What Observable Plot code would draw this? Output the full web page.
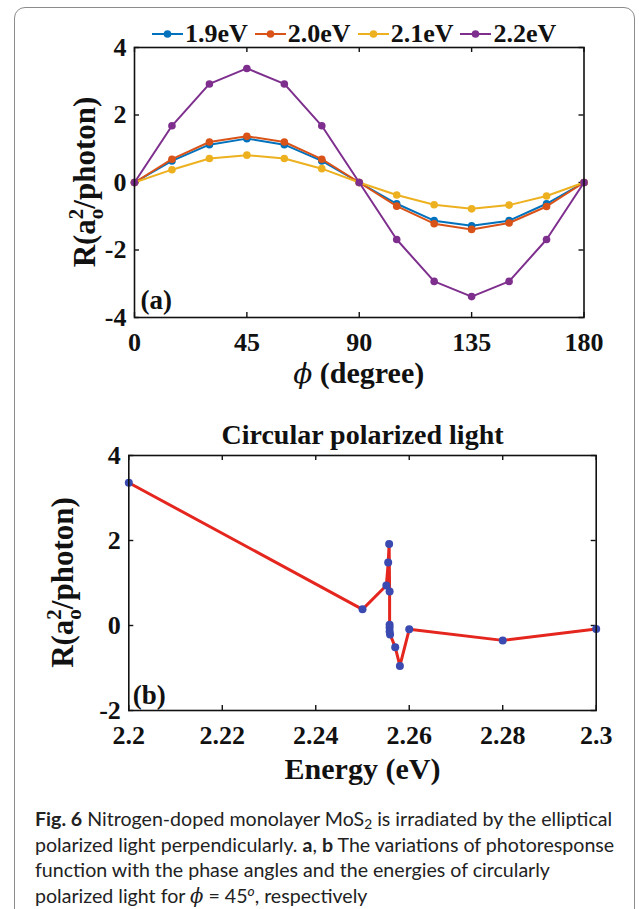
<!DOCTYPE html>
<html>
<head>
<meta charset="utf-8">
<script src="https://cdn.jsdelivr.net/npm/d3@7"></script>
<script src="https://cdn.jsdelivr.net/npm/@observablehq/plot@0.6"></script>
<style>
  body { margin: 0; background: #fff; }
  #wrap { position: relative; width: 639px; height: 909px; overflow: hidden; background: #fff; }
  #border { position: absolute; left: 14px; top: 7px; width: 621px; height: 960px; border: 1.5px solid #8c8c8c; border-radius: 11px; box-sizing: border-box; }
  #plotA { position: absolute; left: 0; top: 0; }
  #plotB { position: absolute; left: 0; top: 400px; }
  #legend { position: absolute; left: 152px; top: 21px; display: flex; align-items: center; font: bold 26px "Liberation Serif", serif; line-height: 26px; color: #111; white-space: nowrap; }
  #legend .item { display: flex; align-items: center; }
  #legend span { margin: 0 7px 0 2px; }
  #caption { position: absolute; left: 35px; top: 806px; width: 600px; font-family: Lato, "Noto Sans", sans-serif; font-size: 19.6px; line-height: 25.7px; color: #222; white-space: nowrap; }
  #caption b { font-weight: bold; }
</style>
</head>
<body>
<div id="wrap">
  <div id="border"></div>
  <div id="plotA"></div>
  <div id="plotB"></div>
  <div id="legend"></div>
  <div id="caption">
    <b>Fig. 6</b> Nitrogen-doped monolayer MoS<sub style="font-size:0.7em;vertical-align:-0.25em;line-height:0">2</sub> is irradiated by the elliptical<br>
    polarized light perpendicularly. <b>a</b>, <b>b</b> The variations of photoresponse<br>
    function with the phase angles and the energies of circularly<br>
    polarized light for <i style="font-family:'DejaVu Serif',serif;">ϕ</i> = 45<sup style="font-size:0.7em;vertical-align:0.5em;line-height:0"><i>o</i></sup>, respectively
  </div>
</div>
<script>
// ---------- Panel (a) data ----------
const phi = [0, 15, 30, 45, 60, 75, 90, 105, 120, 135, 150, 165, 180];
const seriesNames = ["1.9eV", "2.0eV", "2.1eV", "2.2eV"];
const seriesColors = ["#0072BD", "#D95319", "#EDB120", "#7E2F8E"];
const r19 = [0, 0.64, 1.12, 1.30, 1.12, 0.64, 0, -0.63, -1.13, -1.28, -1.13, -0.63, 0];
const r20 = [0, 0.69, 1.20, 1.37, 1.20, 0.69, 0, -0.70, -1.22, -1.39, -1.20, -0.71, 0];
const r21 = [0, 0.38, 0.71, 0.81, 0.71, 0.41, 0, -0.37, -0.66, -0.78, -0.67, -0.40, 0];
const r22 = [0, 1.68, 2.92, 3.38, 2.92, 1.68, 0, -1.69, -2.93, -3.38, -2.93, -1.69, 0];
const xTicksA = [0, 45, 90, 135, 180];
const xTickLabelsA = ["0", "45", "90", "135", "180"];
const yTicksA = [-4, -2, 0, 2, 4];
const yTickLabelsA = ["-4", "-2", "0", "2", "4"];

// ---------- Panel (b) data ----------
const energyB = [2.2, 2.25, 2.2551, 2.2555, 2.2557, 2.2558, 2.2558, 2.2558, 2.2558, 2.2559, 2.257, 2.258, 2.26, 2.28, 2.3];
const rB = [3.36, 0.38, 0.94, 1.48, 1.92, 0.80, 0.02, -0.05, -0.14, -0.21, -0.51, -0.95, -0.09, -0.35, -0.08];
const xTicksB = [2.2, 2.22, 2.24, 2.26, 2.28, 2.3];
const xTickLabelsB = ["2.2", "2.22", "2.24", "2.26", "2.28", "2.3"];
const yTicksB = [-2, 0, 2, 4];
const yTickLabelsB = ["-2", "0", "2", "4"];

const SERIF = "Liberation Serif, Times New Roman, serif";
const INK = "#111";

// ---------- build tables ----------
const seriesVals = [r19, r20, r21, r22];
const tableA = [];
seriesNames.forEach((s, k) => phi.forEach((p, i) => tableA.push({phi: p, r: seriesVals[k][i], series: s})));
const tableB = energyB.map((e, i) => ({e, r: rB[i]}));

function fmt(ticks, labels) { return d => labels[ticks.findIndex(t => Math.abs(t - d) < 1e-9)]; }

// ---------- Plot (a) ----------
const HA = 400, mTA = 47, mBA = 83, mLA = 134, mRA = 55.5;
const innerHA = HA - mTA - mBA, innerWA = 639 - mLA - mRA;
const TK = 5;
const marksA = [
  Plot.axisX({ticks: xTicksA, tickFormat: fmt(xTicksA, xTickLabelsA), tickSize: 0, tickPadding: 15, label: null,
    fontSize: 26, fontWeight: "bold", fontFamily: SERIF, fill: INK}),
  Plot.axisY({ticks: yTicksA, tickFormat: fmt(yTicksA, yTickLabelsA), tickSize: 0, tickPadding: 8, label: null,
    fontSize: 26, fontWeight: "bold", fontFamily: SERIF, fill: INK}),
  Plot.ruleX(xTicksA, {insetTop: innerHA - TK, stroke: INK, strokeWidth: 1.4}),
  Plot.ruleX(xTicksA, {insetBottom: innerHA - TK, stroke: INK, strokeWidth: 1.4}),
  Plot.ruleY(yTicksA, {insetRight: innerWA - TK, stroke: INK, strokeWidth: 1.4}),
  Plot.ruleY(yTicksA, {insetLeft: innerWA - TK, stroke: INK, strokeWidth: 1.4})
];
seriesNames.forEach((s) => {
  const sub = tableA.filter(d => d.series === s);
  marksA.push(Plot.line(sub, {x: "phi", y: "r", stroke: "series", strokeWidth: 2}));
  marksA.push(Plot.dot(sub, {x: "phi", y: "r", fill: "series", r: 3.8}));
});
marksA.push(Plot.frame({stroke: INK, strokeWidth: 1.6}));
marksA.push(Plot.text(["(a)"], {frameAnchor: "bottom-left", dx: 6, dy: -9, textAnchor: "start", lineAnchor: "bottom",
  fontSize: 27, fontWeight: "bold", fontFamily: SERIF, fill: INK}));

const plotA = Plot.plot({
  width: 639, height: HA,
  marginTop: mTA, marginBottom: mBA, marginLeft: mLA, marginRight: mRA,
  style: {background: "transparent", color: INK, overflow: "visible"},
  x: {domain: [0, 180]},
  y: {domain: [-4, 4]},
  color: {domain: seriesNames, range: seriesColors},
  marks: marksA
});
document.getElementById("plotA").appendChild(plotA);

// rich labels for (a)
{
  const svg = d3.select(plotA);
  const sx = plotA.scale("x"), sy = plotA.scale("y");
  const cx = (sx.apply(0) + sx.apply(180)) / 2;
  const cy = (sy.apply(-4) + sy.apply(4)) / 2;
  const xl = svg.append("text").attr("x", cx).attr("y", 383).attr("text-anchor", "middle")
    .attr("font-family", SERIF).attr("font-weight", "bold").attr("font-size", 30).attr("fill", INK);
  xl.append("tspan").attr("font-style", "italic").attr("font-family", "DejaVu Serif, serif").attr("font-weight", "normal").attr("font-size", 28).text("ϕ");
  xl.append("tspan").text(" (degree)");
  ylabel(svg, 95, cy);
}

function ylabel(svg, bx, cy) {
  const t = svg.append("text").attr("transform", `translate(${bx},${cy}) rotate(-90)`).attr("text-anchor", "middle")
    .attr("font-family", SERIF).attr("font-weight", "bold").attr("font-size", 31).attr("fill", INK);
  t.append("tspan").text("R(a");
  t.append("tspan").attr("font-size", 21).attr("dy", -12).text("2");
  t.append("tspan").attr("font-size", 21).attr("dx", -10.5).attr("dy", 20).text("o");
  t.append("tspan").attr("dy", -8).text("/photon)");
}

// ---------- Plot (b) ----------
const HB = 390, mTB = 55, mBB = 80, mLB = 128.3, mRB = 43.3;
const innerHB = HB - mTB - mBB, innerWB = 639 - mLB - mRB;
const plotB = Plot.plot({
  width: 639, height: HB,
  marginTop: mTB, marginBottom: mBB, marginLeft: mLB, marginRight: mRB,
  style: {background: "transparent", color: INK, overflow: "visible"},
  x: {domain: [2.2, 2.3]},
  y: {domain: [-2, 4]},
  marks: [
    Plot.axisX({ticks: xTicksB, tickFormat: fmt(xTicksB, xTickLabelsB), tickSize: 0, tickPadding: 15, label: null,
      fontSize: 26, fontWeight: "bold", fontFamily: SERIF, fill: INK}),
    Plot.axisY({ticks: yTicksB, tickFormat: fmt(yTicksB, yTickLabelsB), tickSize: 0, tickPadding: 8, label: null,
      fontSize: 26, fontWeight: "bold", fontFamily: SERIF, fill: INK}),
    Plot.ruleX(xTicksB, {insetTop: innerHB - TK, stroke: INK, strokeWidth: 1.4}),
    Plot.ruleX(xTicksB, {insetBottom: innerHB - TK, stroke: INK, strokeWidth: 1.4}),
    Plot.ruleY(yTicksB, {insetRight: innerWB - TK, stroke: INK, strokeWidth: 1.4}),
    Plot.ruleY(yTicksB, {insetLeft: innerWB - TK, stroke: INK, strokeWidth: 1.4}),
    Plot.line(tableB, {x: "e", y: "r", stroke: "#E5261E", strokeWidth: 3}),
    Plot.dot(tableB, {x: "e", y: "r", fill: "#3A4AB0", r: 4}),
    Plot.frame({stroke: INK, strokeWidth: 1.6}),
    Plot.text(["(b)"], {frameAnchor: "bottom-left", dx: 4, dy: -7, textAnchor: "start", lineAnchor: "bottom",
      fontSize: 27, fontWeight: "bold", fontFamily: SERIF, fill: INK}),
    Plot.text(["Circular polarized light"], {frameAnchor: "top", dy: -12, lineAnchor: "bottom",
      fontSize: 28, fontWeight: "bold", fontFamily: SERIF, fill: INK}),
    Plot.text(["Energy (eV)"], {frameAnchor: "bottom", dy: 68, lineAnchor: "bottom",
      fontSize: 30, fontWeight: "bold", fontFamily: SERIF, fill: INK})
  ]
});
document.getElementById("plotB").appendChild(plotB);
{
  const svg = d3.select(plotB);
  const sy = plotB.scale("y");
  ylabel(svg, 73, (sy.apply(-2) + sy.apply(4)) / 2);
}

// ---------- legend ----------
const leg = d3.select("#legend");
seriesNames.forEach((s, k) => {
  const it = leg.append("div").attr("class", "item");
  const sw = it.append("svg").attr("width", 31).attr("height", 10);
  sw.append("line").attr("x1", 0).attr("x2", 31).attr("y1", 5).attr("y2", 5).attr("stroke", seriesColors[k]).attr("stroke-width", 2);
  sw.append("circle").attr("cx", 15.5).attr("cy", 5).attr("r", 3.8).attr("fill", seriesColors[k]);
  it.append("span").text(s);
});
</script>
</body>
</html>
